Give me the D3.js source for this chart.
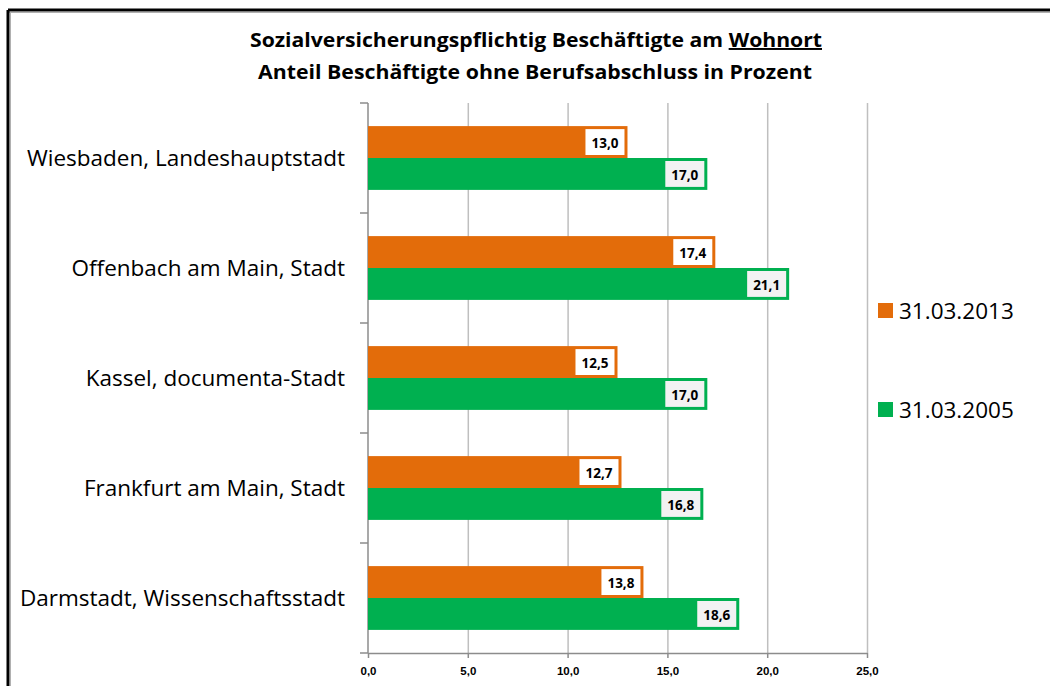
<!DOCTYPE html>
<html>
<head>
<meta charset="utf-8">
<script src="https://cdn.jsdelivr.net/npm/d3@7"></script>
<style>
  html, body { margin: 0; padding: 0; background: #fff; }
  svg { display: block; font-family: "Open Sans", "Noto Sans", sans-serif; }
  .grid line { stroke: #bfbfbf; stroke-width: 1.5; }
  .grid .domain { display: none; }
  .x-axis text { font-size: 11.5px; font-weight: 700; fill: #000; }
  .axis .domain, .axis line { stroke: #8c8c8c; stroke-width: 1.5; }
  .cat-label { font-size: 22.5px; fill: #000; }
  .bar-label { font-size: 13.5px; font-weight: 700; fill: #000; }
  .title { font-size: 19.5px; font-weight: 700; fill: #000; }
  .legend text { font-size: 22.5px; fill: #000; }
</style>
</head>
<body>
<div id="chart"></div>
<script>
const WIDTH = 1050;
const HEIGHT = 686;

const categories = [
  "Wiesbaden, Landeshauptstadt",
  "Offenbach am Main, Stadt",
  "Kassel, documenta-Stadt",
  "Frankfurt am Main, Stadt",
  "Darmstadt, Wissenschaftsstadt",
];
const seriesNames = ["31.03.2013", "31.03.2005"];
const values2013 = [13.0, 17.4, 12.5, 12.7, 13.8];
const values2005 = [17.0, 21.1, 17.0, 16.8, 18.6];
const xTicks = [0, 5, 10, 15, 20, 25];

const COLORS = { "31.03.2013": "#e36c0a", "31.03.2005": "#00b050" };
const LABEL_FILL = { "31.03.2013": "#ffffff", "31.03.2005": "#f2f2f2" };

const plot = { left: 368, right: 867, top: 103, bottom: 653 };

const svg = d3.select("#chart")
  .append("svg")
  .attr("width", WIDTH)
  .attr("height", HEIGHT);

// frame
svg.append("line").attr("x1", 8).attr("x2", WIDTH).attr("y1", 10).attr("y2", 10)
  .attr("stroke", "#000").attr("stroke-width", 3);
svg.append("line").attr("x1", 8).attr("x2", WIDTH).attr("y1", 12.5).attr("y2", 12.5)
  .attr("stroke", "#b0b0b0").attr("stroke-width", 1);
svg.append("line").attr("x1", 8).attr("x2", 8).attr("y1", 10).attr("y2", HEIGHT)
  .attr("stroke", "#000").attr("stroke-width", 3);
svg.append("line").attr("x1", 10.5).attr("x2", 10.5).attr("y1", 12).attr("y2", HEIGHT)
  .attr("stroke", "#b0b0b0").attr("stroke-width", 1);

const x = d3.scaleLinear().domain([0, 25]).range([plot.left, plot.right]);
const y0 = d3.scaleBand().domain(categories).range([plot.top, plot.bottom]).paddingInner(0.42).paddingOuter(0.21);
const yBand = d3.scaleBand().domain(categories).range([plot.top, plot.bottom]);
const y1 = d3.scaleBand().domain(seriesNames).range([0, y0.bandwidth()]);

// gridlines
svg.append("g")
  .attr("class", "grid")
  .attr("transform", `translate(0,${plot.bottom})`)
  .call(d3.axisBottom(x).tickValues(xTicks.slice(1)).tickSize(-(plot.bottom - plot.top)).tickFormat(""));

// x axis
svg.append("g")
  .attr("class", "axis x-axis")
  .attr("transform", `translate(0,${plot.bottom})`)
  .call(d3.axisBottom(x).tickValues(xTicks).tickSize(5).tickSizeOuter(0).tickPadding(9)
    .tickFormat((d) => d3.format(".1f")(d).replace(".", ",")));

// y axis with ticks on category boundaries
const yAxis = svg.append("g").attr("class", "axis y-axis");
yAxis.append("line")
  .attr("x1", plot.left).attr("x2", plot.left)
  .attr("y1", plot.top).attr("y2", plot.bottom)
  .attr("stroke", "#bfbfbf").attr("stroke-width", 2);
yAxis.selectAll("line.tick")
  .data(categories.concat(["end"]))
  .join("line")
  .attr("class", "tick")
  .attr("x1", plot.left - 8).attr("x2", plot.left)
  .attr("y1", (d, i) => i < categories.length ? yBand(d) : plot.bottom)
  .attr("y2", (d, i) => i < categories.length ? yBand(d) : plot.bottom)
  .attr("stroke", "#8c8c8c").attr("stroke-width", 1.5);

svg.append("g")
  .selectAll("text")
  .data(categories)
  .join("text")
  .attr("class", "cat-label")
  .attr("x", 345)
  .attr("y", (d) => yBand(d) + yBand.bandwidth() / 2)
  .attr("dy", "0.35em")
  .attr("text-anchor", "end")
  .text((d) => d);

// bars
const rows = [];
categories.forEach((c, i) => {
  rows.push({ cat: c, series: "31.03.2013", value: values2013[i] });
  rows.push({ cat: c, series: "31.03.2005", value: values2005[i] });
});

svg.append("g")
  .selectAll("rect")
  .data(rows)
  .join("rect")
  .attr("x", x(0))
  .attr("y", (d) => y0(d.cat) + y1(d.series))
  .attr("width", (d) => x(d.value) - x(0))
  .attr("height", y1.bandwidth())
  .attr("fill", (d) => COLORS[d.series]);

// value labels
const labels = svg.append("g")
  .selectAll("g")
  .data(rows)
  .join("g");

labels.each(function (d) {
  const g = d3.select(this);
  const text = d3.format(".1f")(d.value).replace(".", ",");
  const t = g.append("text")
    .attr("class", "bar-label")
    .attr("text-anchor", "middle")
    .attr("dy", "0.35em")
    .text(text);
  const w = t.node().getComputedTextLength() + 12;
  const cy = y0(d.cat) + y1(d.series) + y1.bandwidth() / 2;
  const right = x(d.value) - 3;
  g.insert("rect", "text")
    .attr("x", right - w)
    .attr("y", cy - y1.bandwidth() / 2 + 3)
    .attr("width", w)
    .attr("height", y1.bandwidth() - 6)
    .attr("fill", LABEL_FILL[d.series]);
  t.attr("x", right - w / 2).attr("y", cy + 1);
});

// title
const title = svg.append("g").attr("class", "title-group");
const t1 = title.append("text")
  .attr("class", "title")
  .attr("x", 536)
  .attr("y", 47)
  .attr("text-anchor", "middle")
  .attr("textLength", 572)
  .attr("lengthAdjust", "spacingAndGlyphs");
t1.append("tspan").text("Sozialversicherungspflichtig Beschäftigte am ");
t1.append("tspan").attr("text-decoration", "underline").text("Wohnort");
title.append("text")
  .attr("class", "title")
  .attr("x", 535)
  .attr("y", 79)
  .attr("text-anchor", "middle")
  .attr("textLength", 554)
  .attr("lengthAdjust", "spacingAndGlyphs")
  .text("Anteil Beschäftigte ohne Berufsabschluss in Prozent");

// legend
const legend = svg.append("g").attr("class", "legend");
const legendY = [311, 410];
legend.selectAll("g")
  .data(seriesNames)
  .join("g")
  .attr("transform", (d, i) => `translate(878,${legendY[i]})`)
  .each(function (d) {
    const g = d3.select(this);
    g.append("rect").attr("x", 0).attr("y", -8).attr("width", 15).attr("height", 15).attr("fill", COLORS[d]);
    g.append("text").attr("x", 21).attr("y", 0).attr("dy", "0.35em").text(d);
  });
</script>
</body>
</html>
